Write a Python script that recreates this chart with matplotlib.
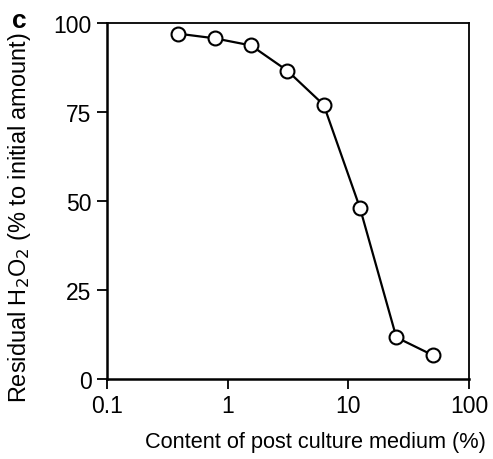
import numpy as np
import matplotlib as mpl
mpl.use("Agg")
import matplotlib.pyplot as plt

mpl.rcParams['font.family'] = ['Liberation Sans', 'DejaVu Sans']

content = [0.39, 0.78, 1.56, 3.125, 6.25, 12.5, 25, 50]
residual = [97, 95.7, 93.7, 86.6, 77, 48, 11.7, 6.7]
xticks = [0.1, 1, 10, 100]
xticklabels = ["0.1", "1", "10", "100"]
yticks = [0, 25, 50, 75, 100]

W, H = 493, 460
fig = plt.figure(figsize=(W / 100, H / 100), dpi=100)
ax = fig.add_axes([107 / W, 1 - 380 / H, 362 / W, 356 / H])

ax.plot(content, residual, color='black', lw=1.6, marker='o', ms=10,
        mfc='white', mec='black', mew=1.5, zorder=3)

ax.set_xscale('log')
ax.set_xlim(0.1, 100)
ax.set_ylim(0, 100)
ax.set_xticks(xticks)
ax.set_xticklabels(xticklabels)
ax.xaxis.set_minor_locator(mpl.ticker.NullLocator())
ax.set_yticks(yticks)

for side in ['left', 'bottom']:
    ax.spines[side].set_linewidth(1.8)
for side in ['top', 'right']:
    ax.spines[side].set_linewidth(1.3)

ax.tick_params(direction='out', length=7, width=1.3, labelsize=16.5, pad=4)

# axis titles placed as in the original figure (slightly off-centre)
fig.text(315 / W, 1 - 443 / H, "Content of post culture medium (%)",
         fontsize=15.7, ha='center', va='center')
fig.text(20 / W, 1 - 218 / H, "Residual H$_2$O$_2$ (% to initial amount)",
         fontsize=16.9, rotation=90, ha='center', va='center')

fig.text(19 / W, 1 - 21 / H, "c", fontsize=19, fontweight='bold',
         ha='center', va='center')

fig.savefig("out.png", dpi=100)
